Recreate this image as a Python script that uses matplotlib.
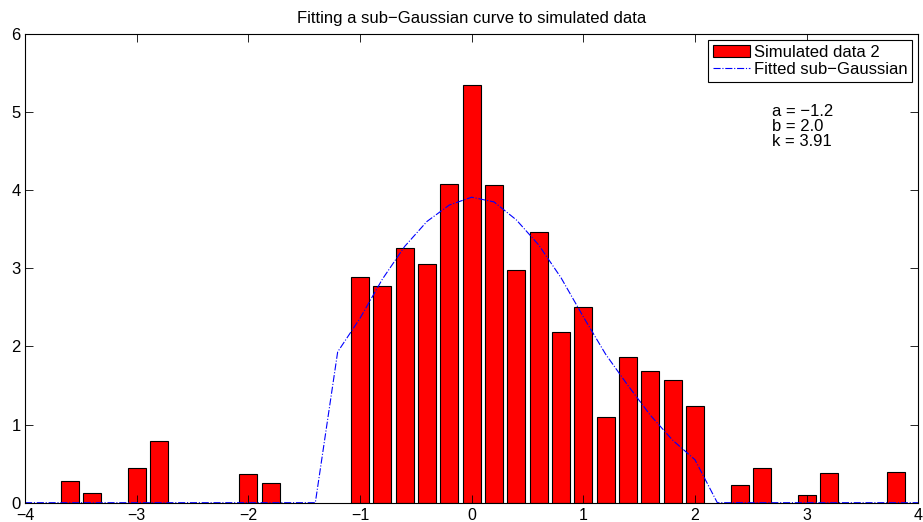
import matplotlib
matplotlib.use('Agg')
import matplotlib.pyplot as plt

plt.rcParams['font.family'] = ['Liberation Sans', 'DejaVu Sans']

# histogram of the simulated data (bin centres, heights)
bin_x = [-3.6, -3.4, -3.0, -2.8, -2.0, -1.8,
         -1.0, -0.8, -0.6, -0.4, -0.2, 0.0, 0.2, 0.4, 0.6, 0.8,
         1.0, 1.2, 1.4, 1.6, 1.8, 2.0,
         2.4, 2.6, 3.0, 3.2, 3.8]
bin_h = [0.28, 0.12, 0.44, 0.79, 0.37, 0.25,
         2.89, 2.77, 3.26, 3.06, 4.08, 5.35, 4.06, 2.98, 3.46, 2.18,
         2.50, 1.10, 1.86, 1.68, 1.57, 1.24,
         0.22, 0.45, 0.10, 0.38, 0.39]

# fitted sub-Gaussian curve
fit_x = [-4.0, -1.4, -1.2, -1.0, -0.8, -0.6, -0.4, -0.2, 0.0, 0.2, 0.4,
         0.6, 0.8, 1.0, 1.2, 1.4, 1.6, 1.8, 2.0, 2.2, 4.0]
fit_y = [0.0, 0.0, 1.93, 2.36, 2.86, 3.28, 3.60, 3.81, 3.91, 3.85, 3.62,
         3.30, 2.88, 2.38, 1.90, 1.50, 1.12, 0.80, 0.55, 0.0, 0.0]

params = ['a = \u22121.2', 'b = 2.0', 'k = 3.91']

fig = plt.figure(figsize=(9.23, 5.22), dpi=100)
ax = fig.add_axes([0.0271, 0.037, 0.9678, 0.898])

bars = ax.bar(bin_x, bin_h, width=0.16, color='#ff0000', edgecolor='black',
              linewidth=0.8)
line, = ax.plot(fit_x, fit_y, color='blue', linestyle='-.', linewidth=0.8)

ax.text(2.69, 4.82, '\n'.join(params), fontsize=12, va='center', ha='left',
        linespacing=1.0)

ax.set_xlim(-4, 4)
ax.set_ylim(0, 6)
ax.set_xticks(range(-4, 5))
ax.set_yticks(range(0, 7))
ax.tick_params(direction='in', top=True, right=True, labelsize=12,
               length=6, width=0.6, pad=3)
ax.tick_params(axis='x', labelsize=11.5, pad=3.5)
for s in ax.spines.values():
    s.set_linewidth(0.8)

ax.set_title('Fitting a sub\u2212Gaussian curve to simulated data', fontsize=12, pad=8)

leg = ax.legend([bars, line], ['Simulated data 2', 'Fitted sub\u2212Gaussian'],
                loc='upper right', fontsize=12, fancybox=False, framealpha=1,
                edgecolor='black', borderpad=0.3, labelspacing=0.12,
                handlelength=2.2, handletextpad=0.25, borderaxespad=0.35)
leg.get_frame().set_linewidth(0.8)

fig.savefig('out.png', dpi=100)
